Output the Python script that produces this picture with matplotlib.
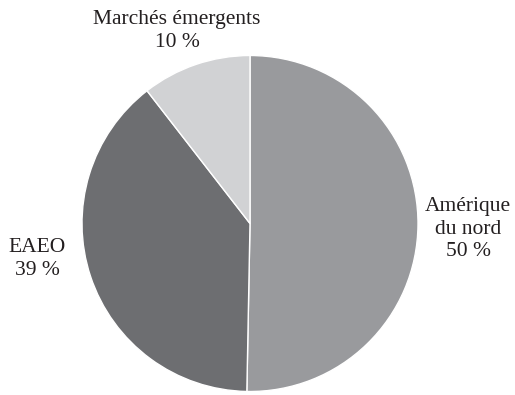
import matplotlib
matplotlib.use("Agg")
import matplotlib.pyplot as plt

categories = ["Amérique\ndu nord", "EAEO", "Marchés émergents"]
values = [50.3, 39.2, 10.5]
pct_labels = ["50 %", "39 %", "10 %"]
colors = ["#999a9d", "#6d6e71", "#d1d2d4"]

W, H = 515, 395
fig = plt.figure(figsize=(W / 100, H / 100), dpi=100)
cx, cy, r = 250, 223.5, 168
ax = fig.add_axes([(cx - r) / W, 1 - (cy + r) / H, 2 * r / W, 2 * r / H])
ax.pie(values, colors=colors, startangle=90, counterclock=False,
       radius=1, wedgeprops=dict(edgecolor="white", linewidth=1.0))
ax.set_xlim(-1, 1)
ax.set_ylim(-1, 1)
ax.set_aspect("equal")
ax.axis("off")

label_pos = [(468, 229), (37, 259), (177, 31)]
for cat, pct, (px, py) in zip(categories, pct_labels, label_pos):
    fig.text(px / W, 1 - py / H, f"{cat}\n{pct}", ha="center", va="center",
             family="Liberation Serif", fontsize=15.5, linespacing=1.28,
             color="#231f20")

fig.savefig("out.png", dpi=100)
